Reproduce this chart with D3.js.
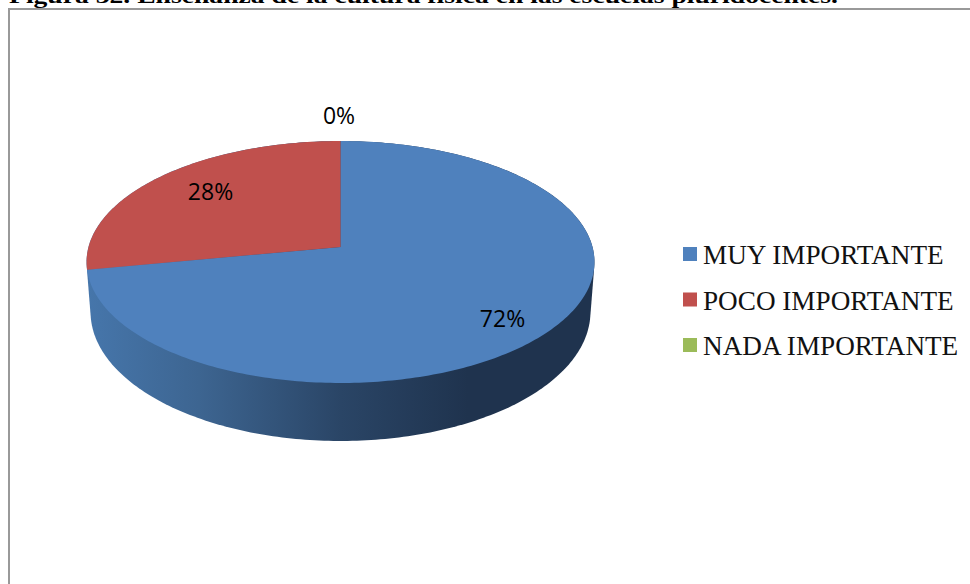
<!doctype html>
<html>
<head>
  <meta charset="utf-8" />
  <script src="https://cdn.jsdelivr.net/npm/d3@7"></script>
</head>
<body style="margin:0px;background:#fff">
<script>

var w = 970;
var h = 584;

var categories = ["MUY IMPORTANTE", "POCO IMPORTANTE", "NADA IMPORTANTE"];
var values = [72, 28, 0];
var labels = ["72%", "28%", "0%"];
var colors = ["#4f81bd", "#c0504d", "#9bbb59"];

var title = "Figura 32. Enseñanza de la cultura física en las escuelas pluridocentes.";

var svg = d3.select("body").append("svg")
  .attr("width", w).attr("height", h)
  .style("display", "block");

// frame of the picture, only top and left are in view
svg.append("path")
  .attr("d", "M9,584V9H970")
  .attr("fill", "none")
  .attr("stroke", "#999")
  .attr("stroke-width", 2);

// the title is stretched sideways and cut by the top edge, same as the original
svg.append("text")
  .attr("x", 9).attr("y", 3)
  .attr("textLength", 829)
  .attr("lengthAdjust", "spacingAndGlyphs")
  .attr("font-family", "Liberation Serif")
  .attr("font-weight", "bold")
  .attr("font-size", 20)
  .attr("fill", "#000")
  .text(title);

var pie = d3.pie().sort(null).startAngle(0).endAngle(2 * Math.PI).value(function(d) { return d; });
var arcs = pie(values);

// perspective of the tilted disc, the centre is not in the middle of the ellipse
var k = 0.124;
function rim(plane) {
  return function(a) {
    var u = Math.sin(a), v = -Math.cos(a), s = 1 - k * v;
    return [plane.cx + plane.r * u / s, plane.cy + plane.s * v / s];
  };
}
var topPlane = {cx: 340.5, cy: 247, r: 252, s: 119.1};
var lowPlane = {cx: 340.5, cy: 296, r: 248, s: 127};

function arcPoints(plane, a0, a1) {
  var n = Math.max(2, Math.ceil((a1 - a0) * 60));
  return d3.range(n + 1).map(function(i) { return rim(plane)(a0 + (a1 - a0) * i / n); });
}

var line = d3.line();

var defs = svg.append("defs");
var grad = defs.append("linearGradient")
  .attr("id", "wall")
  .attr("gradientUnits", "userSpaceOnUse")
  .attr("x1", 87).attr("x2", 595).attr("y1", 0).attr("y2", 0);
[[0, "#4676ab"], [0.22, "#3d6591"], [0.5, "#2a4566"], [0.75, "#1f334e"], [1, "#1f334e"]].forEach(function(s) {
  grad.append("stop").attr("offset", s[0]).attr("stop-color", s[1]);
});

// side wall: hull of both rims, the top surface is painted over it
var hull = d3.polygonHull(arcPoints(topPlane, 0, 2 * Math.PI).concat(arcPoints(lowPlane, 0, 2 * Math.PI)));
svg.append("path")
  .attr("d", line(hull) + "Z")
  .attr("fill", "url(#wall)");

// top surface
svg.selectAll("path.slice")
  .data(arcs)
  .enter()
  .append("path")
  .attr("class", "slice")
  .attr("d", function(d) {
    return line([[topPlane.cx, topPlane.cy]].concat(arcPoints(topPlane, d.startAngle, d.endAngle))) + "Z";
  })
  .attr("fill", function(d, i) { return colors[i]; });

// data labels
var labelX = d3.scaleOrdinal().domain(labels).range([502.5, 210.5, 339]);
var labelY = d3.scaleOrdinal().domain(labels).range([327, 200, 124]);
svg.selectAll("text.lab")
  .data(labels)
  .enter()
  .append("text")
  .attr("class", "lab")
  .attr("x", function(d) { return labelX(d); })
  .attr("y", function(d) { return labelY(d); })
  .attr("text-anchor", "middle")
  .attr("font-family", "Open Sans")
  .attr("font-size", 23)
  .attr("fill", "#000")
  .text(function(d) { return d; });

// legend
var legendY = d3.scalePoint().domain(categories).range([254, 345]);
var legend = svg.selectAll("g.leg")
  .data(categories)
  .enter()
  .append("g")
  .attr("class", "leg")
  .attr("transform", function(d) { return "translate(683," + legendY(d) + ")"; });
legend.append("rect")
  .attr("x", 0).attr("y", -7)
  .attr("width", 14).attr("height", 14)
  .attr("fill", function(d, i) { return colors[i]; });
legend.append("text")
  .attr("x", 20).attr("y", 10)
  .attr("font-family", "Liberation Serif")
  .attr("font-size", 27.2)
  .attr("fill", "#111")
  .text(function(d) { return d; });

</script>
</body>
</html>
